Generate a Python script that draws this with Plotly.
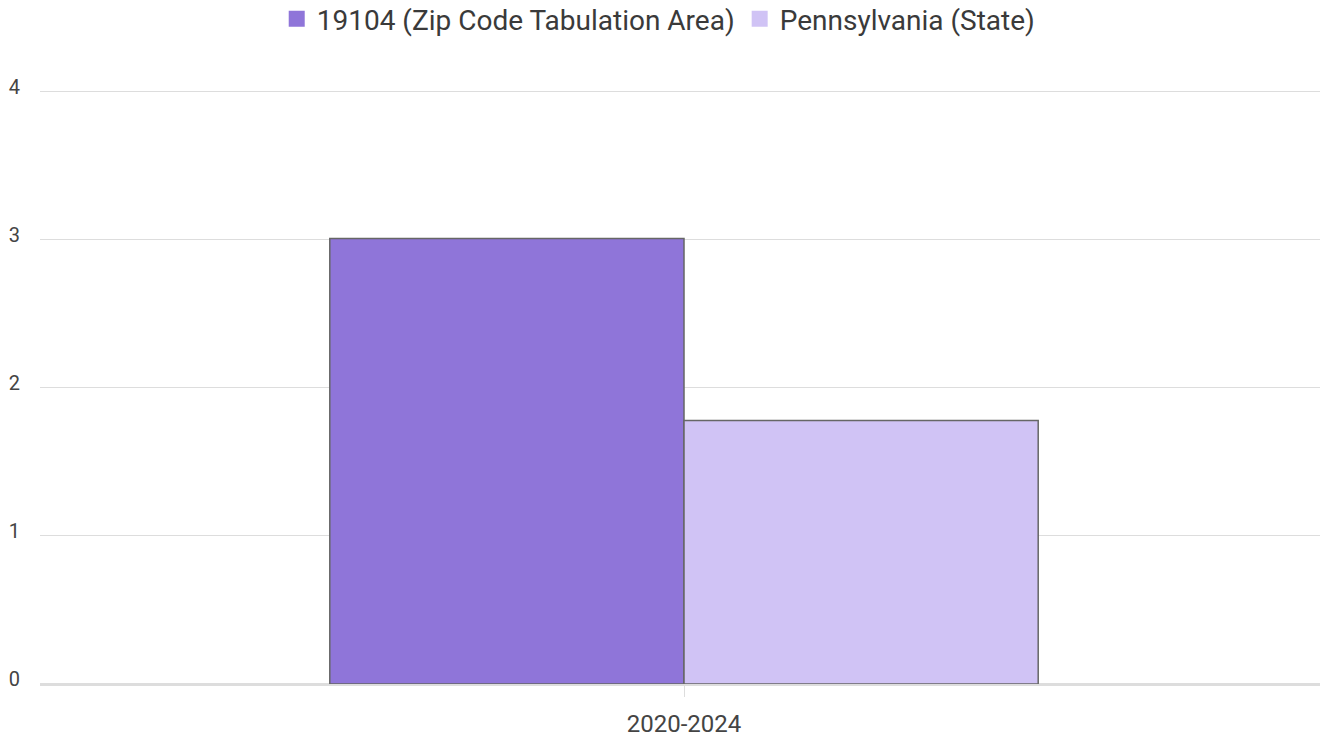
import plotly.graph_objects as go

categories = ["2020-2024"]
series_names = ["19104 (Zip Code Tabulation Area)", "Pennsylvania (State)"]
zip_values = [3.01]
state_values = [1.78]
colors = ["#8F75D9", "#D0C3F5"]

fig = go.Figure()
for name, vals, col in zip(series_names, [zip_values, state_values], colors):
    fig.add_trace(go.Bar(
        x=categories, y=vals, name=name, showlegend=False, legendgroup=name,
        marker=dict(color=col, line=dict(color="#666666", width=1.5)),
    ))
# legend entries (square swatches without outline)
for name, col in zip(series_names, colors):
    fig.add_trace(go.Scatter(
        x=[None], y=[None], mode="markers", name=name, legendgroup=name,
        marker=dict(symbol="square", size=16, color=col),
    ))

fig.update_layout(
    width=1328, height=738,
    margin=dict(l=32, r=8, t=81, b=62, autoexpand=False),
    paper_bgcolor="white", plot_bgcolor="white",
    font=dict(family="Roboto", size=20, color="#444444"),
    barmode="group", bargap=0.45, bargroupgap=0,
    legend=dict(orientation="h", xref="container", x=0.490, xanchor="center",
                yref="container", y=0.985, yanchor="middle",
                font=dict(size=28, color="#3a3a3a"), itemwidth=30, traceorder="normal"),
    showlegend=True,
)
fig.update_yaxes(range=[0, 4.02], tickvals=[0, 1, 2, 3, 4], showgrid=True, gridcolor="#dddddd", gridwidth=1,
                 zeroline=True, zerolinecolor="#dddddd", zerolinewidth=3, automargin=False,
                 tickfont=dict(size=20, color="#444444"), ticklabelstandoff=19, ticklabelshift=-5,
                 fixedrange=True)
fig.update_xaxes(showgrid=False, ticks="outside", tickcolor="#dddddd", ticklen=12, tickwidth=1,
                 automargin=False,
                 tickfont=dict(size=24, color="#444444"), ticklabelstandoff=6, showline=False)

fig.write_html("out.html")
